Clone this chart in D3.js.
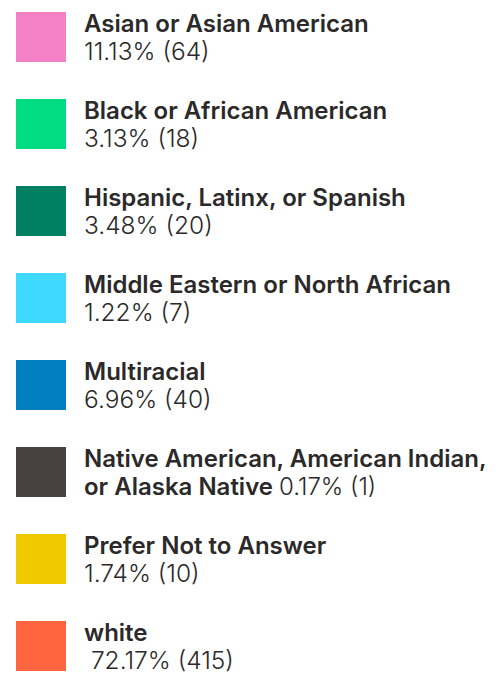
<!DOCTYPE html>
<html>
<head>
<meta charset="utf-8">
<script src="https://cdn.jsdelivr.net/npm/d3@7"></script>
<style>
  html, body { margin: 0; padding: 0; background: #fff; }
  svg { display: block; }
</style>
</head>
<body>
<svg id="chart" width="499" height="677"></svg>
<script>
// Data
const categories = [
    'Asian or Asian American',
    'Black or African American',
    'Hispanic, Latinx, or Spanish',
    'Middle Eastern or North African',
    'Multiracial',
    'Native American, American Indian, or Alaska Native',
    'Prefer Not to Answer',
    'white',
];
const counts = [64, 18, 20, 7, 40, 1, 10, 415];
const colors = ['#f481c6', '#00dc82', '#008060', '#3fd8ff', '#0080c0', '#474140', '#f0c800', '#ff6640'];
// labels that wrap in the original
const wrapLines = {
    'Native American, American Indian, or Alaska Native': ['Native American, American Indian,', 'or Alaska Native'],
};

const width = 499;
const height = 677;
const total = d3.sum(counts);
const fmtPct = d => (d * 100).toFixed(2) + '%';

const svg = d3.select('#chart');

const rowScale = d3.scaleBand()
    .domain(categories)
    .range([12, 12 + 87 * 8 - 37])
    .paddingInner(37 / 87)
    .paddingOuter(0);

const swatchSize = rowScale.bandwidth();
const swatchX = 16;
const textX = 84;
const fontFamily = 'Inter, sans-serif';

const rows = svg.selectAll('g.row')
    .data(categories.map((c, i) => ({ label: c, count: counts[i], color: colors[i] })))
    .join('g')
    .attr('class', 'row')
    .attr('transform', d => `translate(0, ${rowScale(d.label)})`);

rows.append('rect')
    .attr('x', swatchX)
    .attr('y', 0)
    .attr('width', swatchSize)
    .attr('height', swatchSize)
    .attr('fill', d => d.color);

rows.each(function (d) {
    const g = d3.select(this);
    const valueText = `${fmtPct(d.count / total)} (${d.count})`;
    const text = g.append('text')
        .attr('x', textX)
        .attr('font-family', fontFamily)
        .attr('fill', '#2b2929');
    const lines = wrapLines[d.label];
    if (lines) {
        text.append('tspan')
            .attr('x', textX).attr('y', 20)
            .attr('font-size', 24).attr('font-weight', 600)
            .text(lines[0]);
        text.append('tspan')
            .attr('x', textX).attr('y', 48)
            .attr('font-size', 24).attr('font-weight', 600)
            .text(lines[1] + ' ');
        text.append('tspan')
            .attr('font-size', 24).attr('font-weight', 300)
            .text(valueText);
    } else {
        text.append('tspan')
            .attr('x', textX).attr('y', 20)
            .attr('font-size', 24).attr('font-weight', 600)
            .text(d.label);
        text.append('tspan')
            .attr('x', textX).attr('y', 47.5)
            .attr('font-size', 24.5).attr('font-weight', 300)
            .text((d.label === 'white' ? '\u00a0' : '') + valueText);
    }
});
</script>
</body>
</html>
